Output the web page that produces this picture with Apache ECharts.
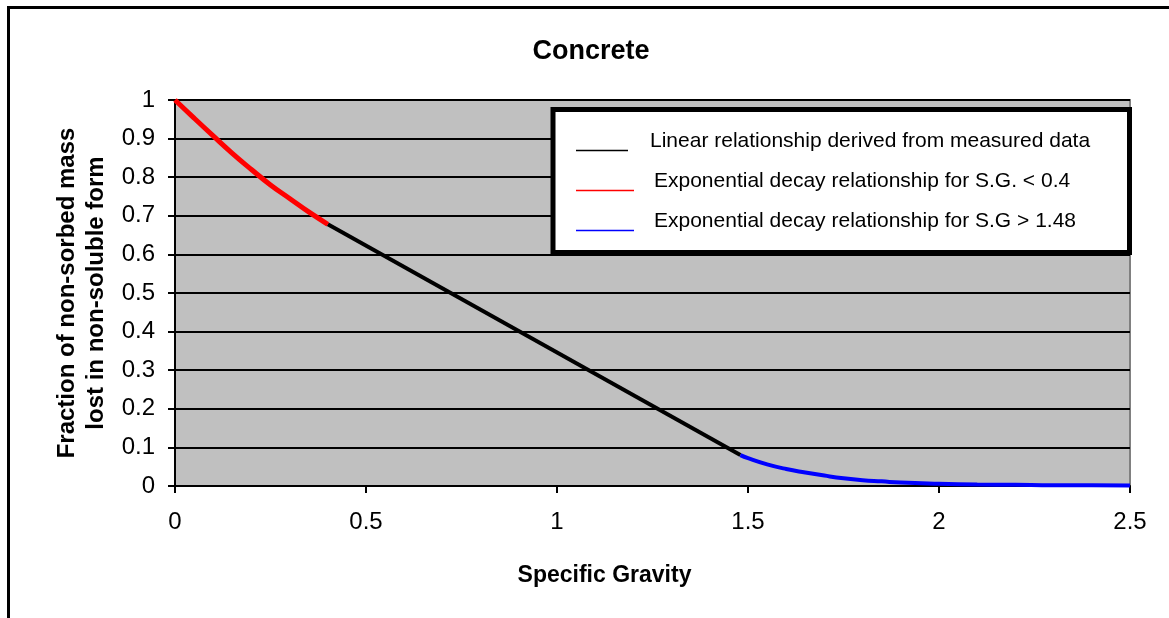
<!DOCTYPE html>
<html><head><meta charset="utf-8">
<script src="https://cdn.jsdelivr.net/npm/echarts@6/dist/echarts.min.js"></script>
<style>html,body{margin:0;padding:0;background:#fff}#c{width:1169px;height:618px}</style>
</head><body><div id="c"></div>
<script>
const xTicks = [0, 0.5, 1, 1.5, 2, 2.5];
const yTicks = [0, 0.1, 0.2, 0.3, 0.4, 0.5, 0.6, 0.7, 0.8, 0.9, 1];
const redX = [0, 0.05, 0.1, 0.15, 0.2, 0.25, 0.3, 0.35, 0.4];
const redY = [1, 0.953, 0.907, 0.862, 0.82, 0.78, 0.745, 0.71, 0.678];
const blackX = [0.4, 1.48];
const blackY = [0.678, 0.08];
const blueX = [1.48, 1.5, 1.55, 1.6, 1.65, 1.7, 1.75, 1.8, 1.85, 1.9, 2.0, 2.1, 2.2, 2.3, 2.4, 2.5];
const blueY = [0.08, 0.072, 0.056, 0.044, 0.035, 0.027, 0.02, 0.015, 0.012, 0.009, 0.006, 0.004, 0.003, 0.002, 0.002, 0.001];
const legendNames = ['Linear relationship derived from measured data', 'Exponential decay relationship for S.G. < 0.4', 'Exponential decay relationship for S.G > 1.48'];

const zip = (a, b) => a.map((v, i) => [v, b[i]]);
const F = 'Arial, "Liberation Sans", sans-serif';
const chart = echarts.init(document.getElementById('c'));
chart.setOption({
  animation: false,
  title: { text: 'Concrete', left: 586, top: 33, textAlign: 'center',
    textStyle: { fontFamily: F, fontSize: 27, fontWeight: 'bold', color: '#000' } },
  grid: { left: 175, right: 39, top: 100, bottom: 132, show: true,
    backgroundColor: '#C0C0C0', borderColor: '#808080', borderWidth: 2 },
  xAxis: { type: 'value', min: 0, max: 2.5, interval: 0.5,
    name: 'Specific Gravity', nameLocation: 'middle', nameGap: 78,
    nameTextStyle: { fontFamily: F, fontSize: 23, fontWeight: 'bold', color: '#000', padding: [0, 96, 0, 0] },
    axisLine: { lineStyle: { color: '#000', width: 2 } },
    axisTick: { show: true, length: 7, lineStyle: { color: '#000', width: 2 } },
    axisLabel: { fontFamily: F, fontSize: 24, color: '#000', margin: 24 },
    splitLine: { show: false } },
  yAxis: { type: 'value', min: 0, max: 1, interval: 0.1,
    name: 'Fraction of non-sorbed mass\nlost in non-soluble form', nameLocation: 'middle', nameGap: 47,
    nameTextStyle: { fontFamily: F, fontSize: 24, fontWeight: 'bold', color: '#000', lineHeight: 29 },
    axisLine: { lineStyle: { color: '#000', width: 2 } },
    axisTick: { show: true, length: 7, lineStyle: { color: '#000', width: 2 } },
    axisLabel: { fontFamily: F, fontSize: 24, color: '#000', margin: 20,
      formatter: v => String(Math.round(v * 10) / 10) },
    splitLine: { show: true, lineStyle: { color: '#000', width: 2 } } },
  series: [
    { name: legendNames[0], type: 'line', data: zip(blackX, blackY), showSymbol: false,
      lineStyle: { color: '#000', width: 4 }, z: 3 },
    { name: legendNames[1], type: 'line', data: zip(redX, redY), showSymbol: false, smooth: true,
      lineStyle: { color: '#FF0000', width: 5 }, z: 4 },
    { name: legendNames[2], type: 'line', data: zip(blueX, blueY), showSymbol: false, smooth: true,
      lineStyle: { color: '#0000FF', width: 4 }, z: 4 }
  ],
  graphic: [
    { type: 'rect', shape: { x: 8.5, y: 7.5, width: 1300, height: 800 }, silent: true, z: -10,
      style: { fill: 'none', stroke: '#000', lineWidth: 3 } },
    { type: 'rect', shape: { x: 553, y: 109.5, width: 576.5, height: 143 }, z: 10,
      style: { fill: '#fff', stroke: '#000', lineWidth: 5 } },
    { type: 'line', shape: { x1: 576, y1: 150.5, x2: 628, y2: 150.5 }, z: 11, style: { stroke: '#000', lineWidth: 1.5 } },
    { type: 'line', shape: { x1: 576, y1: 190.5, x2: 634, y2: 190.5 }, z: 11, style: { stroke: '#FF0000', lineWidth: 1.5 } },
    { type: 'line', shape: { x1: 576, y1: 230.5, x2: 634, y2: 230.5 }, z: 11, style: { stroke: '#0000FF', lineWidth: 1.5 } },
    { type: 'text', x: 650, y: 141, z: 11, style: { text: legendNames[0], font: '21px ' + F, fill: '#000', textVerticalAlign: 'middle' } },
    { type: 'text', x: 654, y: 181, z: 11, style: { text: legendNames[1], font: '21px ' + F, fill: '#000', textVerticalAlign: 'middle' } },
    { type: 'text', x: 654, y: 221, z: 11, style: { text: legendNames[2], font: '21px ' + F, fill: '#000', textVerticalAlign: 'middle' } }
  ]
});
</script></body></html>
